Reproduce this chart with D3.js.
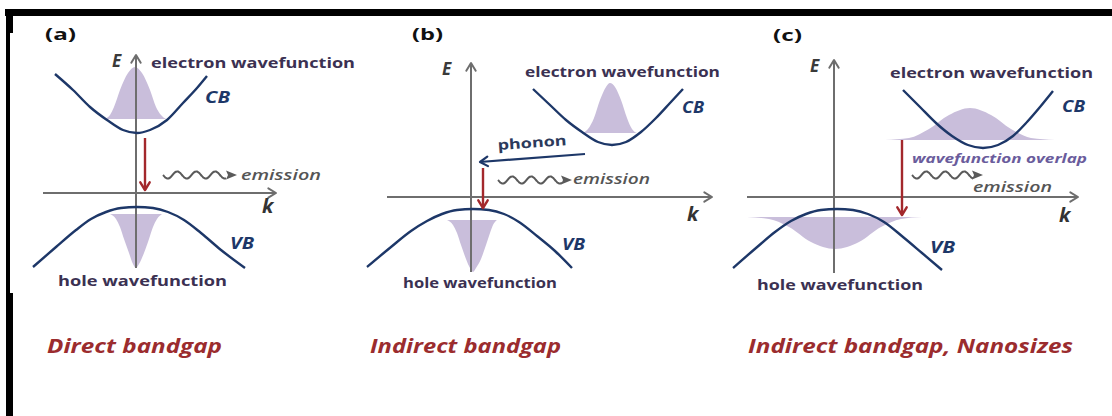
<!DOCTYPE html>
<html>
<head>
<meta charset="utf-8">
<script src="https://cdn.jsdelivr.net/npm/d3@7"></script>
<style>
	body { margin: 0; background: #fff; }
	svg { display: block; }
	text { font-family: "Open Sans", "DejaVu Sans", sans-serif; }
</style>
</head>
<body>
<svg id="svg-port" width="1112" height="416"></svg>
<script>
// band curves, k and E in arbitrary units (1 unit = 10 px)
var cbA = [[-8.1, 11.9], [-6.3, 10.3], [-4.6, 8.6], [-2.9, 7.3], [-1.3, 6.3], [0.1, 6.0], [1.4, 6.3], [3.1, 7.3], [4.7, 9.0], [6.1, 10.5], [7.1, 11.7]];
var vbA = [[-10.3, -7.4], [-8.0, -5.4], [-6.0, -3.7], [-4.5, -2.6], [-3.0, -1.9], [-1.5, -1.5], [0.1, -1.4], [1.7, -1.5], [3.2, -1.9], [4.8, -2.7], [6.5, -4.0], [8.5, -5.7], [10.9, -7.5]];
var elA = [[-3.1, 7.4], [-2.6, 7.8], [-2.2, 8.6], [-1.6, 10.3], [-0.8, 12.0], [-0.1, 12.6], [0.6, 12.0], [1.4, 10.3], [2.0, 8.6], [2.5, 7.8], [3.0, 7.4]];
var hoA = [[-2.6, -2.1], [-2.0, -2.6], [-1.6, -3.4], [-1.2, -4.6], [-0.7, -6.0], [-0.3, -7.1], [0, -7.5], [0.3, -7.1], [0.8, -6.0], [1.3, -4.6], [1.7, -3.4], [2.1, -2.6], [2.6, -2.1]];

var cbB = [[6.2, 10.8], [7.9, 9.2], [9.5, 7.7], [11.1, 6.5], [12.7, 5.5], [14.1, 5.2], [15.5, 5.5], [17.0, 6.5], [18.5, 7.9], [19.9, 9.4], [21.2, 10.8]];
var vbB = [[-10.4, -7.0], [-8.0, -5.0], [-6.0, -3.4], [-4.4, -2.4], [-2.9, -1.7], [-1.4, -1.3], [0.2, -1.2], [1.8, -1.3], [3.3, -1.7], [4.8, -2.5], [6.6, -3.9], [8.4, -5.4], [10.1, -7.1]];
var elB = [[11.1, 6.4], [11.7, 6.8], [12.3, 7.9], [12.9, 9.7], [13.5, 11.0], [13.9, 11.4], [14.4, 11.0], [15.0, 9.7], [15.6, 7.9], [16.1, 6.8], [16.6, 6.4]];
var hoB = [[-2.4, -2.3], [-1.8, -2.8], [-1.4, -3.6], [-1.0, -4.8], [-0.5, -6.2], [-0.1, -7.1], [0.2, -7.5], [0.5, -7.1], [1.0, -6.2], [1.5, -4.8], [1.9, -3.6], [2.2, -2.8], [2.6, -2.3]];

var cbC = [[6.9, 10.7], [8.6, 9.0], [10.2, 7.4], [11.8, 6.1], [13.4, 5.2], [14.9, 4.9], [16.4, 5.2], [17.9, 6.1], [19.3, 7.5], [20.6, 9.0], [21.9, 10.6]];
var vbC = [[-10.1, -7.1], [-7.8, -5.1], [-5.9, -3.5], [-4.3, -2.4], [-2.8, -1.7], [-1.3, -1.3], [0.3, -1.2], [1.9, -1.3], [3.4, -1.7], [5.0, -2.5], [6.9, -4.0], [8.8, -5.6], [10.8, -7.3]];
var elC = [[5.1, 5.7], [7.5, 5.9], [9.5, 6.8], [11.5, 8.2], [13.6, 8.9], [15.7, 8.2], [17.7, 6.8], [19.7, 5.9], [22.1, 5.7]];
var hoC = [[-8.7, -2.0], [-6.5, -2.2], [-4.5, -3.0], [-2.3, -4.5], [0.1, -5.2], [2.5, -4.5], [4.7, -3.0], [6.7, -2.2], [8.8, -2.0]];

var panelTitles = ['Direct bandgap', 'Indirect bandgap', 'Indirect bandgap, Nanosizes'];
var panelTags = ['(a)', '(b)', '(c)'];

var navy = '#1d3768';
var lilac = '#c9bedb';
var axisGray = '#6e6e6e';
var red = '#a3282c';
var textPurple = '#3b3152';

var svg = d3.select('#svg-port');

// frame
svg.append('rect').attr('x', 5).attr('y', 9).attr('width', 1107).attr('height', 7).attr('fill', '#000');
svg.append('rect').attr('x', 6).attr('y', 9).attr('width', 4).attr('height', 407).attr('fill', '#000');
svg.append('rect').attr('x', 6).attr('y', 9).attr('width', 7).attr('height', 24).attr('fill', '#000');
svg.append('rect').attr('x', 6).attr('y', 293).attr('width', 7).attr('height', 123).attr('fill', '#000');

var panels = [
	{ox: 136, oy: 193, kMin: -9.3, kMax: 14.0, eMin: -7.5, eMax: 13.8, cb: cbA, vb: vbA, el: elA, ho: hoA,
		red: [0.9, 5.5, 0.3], wave: [2.7, 10.1, 1.8]},
	{ox: 471, oy: 197, kMin: -8.4, kMax: 24.1, eMin: -7.5, eMax: 13.4, cb: cbB, vb: vbB, el: elB, ho: hoB,
		red: [1.2, 2.9, -1.1], wave: [2.7, 10.1, 1.7], phonon: [11.4, 4.3, 0.9, 3.5]},
	{ox: 834, oy: 197, kMin: -8.7, kMax: 24.4, eMin: -7.6, eMax: 13.7, cb: cbC, vb: vbC, el: elC, ho: hoC,
		red: [6.8, 5.7, -1.8], wave: [7.8, 14.9, 2.2]}
];

function chevron(g, x, y, angle, size, color, width) {
	// open arrow head pointing along angle (degrees, 0 = right)
	var a = angle * Math.PI / 180, s = 0.55;
	var p1 = [x - size * Math.cos(a - s), y - size * Math.sin(a - s)];
	var p2 = [x - size * Math.cos(a + s), y - size * Math.sin(a + s)];
	g.append('path')
		.attr('d', 'M' + p1 + 'L' + [x, y] + 'L' + p2)
		.attr('fill', 'none').attr('stroke', color).attr('stroke-width', width)
		.attr('stroke-linecap', 'round').attr('stroke-linejoin', 'round');
}

function wavy(g, x0, x1, y) {
	var headLen = 10, end = x1 - headLen, pts = [];
	for (var x = x0; x <= end; x += 1) {
		pts.push([x, y + 3.6 * Math.sin((x - x0) / 19 * 2 * Math.PI)]);
	}
	g.append('path').attr('d', d3.line().curve(d3.curveBasis)(pts))
		.attr('fill', 'none').attr('stroke', '#5a5a5a').attr('stroke-width', 2);
	g.append('path')
		.attr('d', 'M' + [x1, y] + 'L' + [end - 1, y - 4.5] + 'L' + [end + 1, y] + 'L' + [end - 1, y + 4.5] + 'Z')
		.attr('fill', '#5a5a5a');
}

panels.forEach(function (p, i) {
	var g = svg.append('g');
	var x = d3.scaleLinear().domain([0, 1]).range([p.ox, p.ox + 10]);
	var y = d3.scaleLinear().domain([0, 1]).range([p.oy, p.oy - 10]);

	var line = d3.line().x(function (d) { return x(d[0]); }).y(function (d) { return y(d[1]); })
		.curve(d3.curveMonotoneX);
	var elArea = d3.area().x(function (d) { return x(d[0]); })
		.y0(y(p.el[0][1])).y1(function (d) { return y(d[1]); }).curve(d3.curveMonotoneX);
	var hoArea = d3.area().x(function (d) { return x(d[0]); })
		.y0(y(p.ho[0][1])).y1(function (d) { return y(d[1]); }).curve(d3.curveMonotoneX);

	g.append('path').attr('d', elArea(p.el)).attr('fill', lilac);
	g.append('path').attr('d', hoArea(p.ho)).attr('fill', lilac);

	// axes
	g.append('line').attr('x1', x(0)).attr('x2', x(0)).attr('y1', y(p.eMin)).attr('y2', y(p.eMax))
		.attr('stroke', axisGray).attr('stroke-width', 2);
	chevron(g, x(0), y(p.eMax), -90, 9, axisGray, 2);
	g.append('line').attr('x1', x(p.kMin)).attr('x2', x(p.kMax)).attr('y1', y(0)).attr('y2', y(0))
		.attr('stroke', axisGray).attr('stroke-width', 2);
	chevron(g, x(p.kMax), y(0), 0, 9, axisGray, 2);

	g.append('path').attr('d', line(p.cb)).attr('fill', 'none').attr('stroke', navy).attr('stroke-width', 2.4);
	g.append('path').attr('d', line(p.vb)).attr('fill', 'none').attr('stroke', navy).attr('stroke-width', 2.4);

	// recombination arrow
	g.append('line').attr('x1', x(p.red[0])).attr('x2', x(p.red[0]))
		.attr('y1', y(p.red[1])).attr('y2', y(p.red[2]))
		.attr('stroke', red).attr('stroke-width', 2.4);
	chevron(g, x(p.red[0]), y(p.red[2]), 90, 9, red, 2.4);

	wavy(g, x(p.wave[0]), x(p.wave[1]), y(p.wave[2]));

	if (p.phonon) {
		var ph = p.phonon;
		g.append('line').attr('x1', x(ph[0])).attr('y1', y(ph[1])).attr('x2', x(ph[2])).attr('y2', y(ph[3]))
			.attr('stroke', navy).attr('stroke-width', 2.2);
		var ang = Math.atan2(y(ph[3]) - y(ph[1]), x(ph[2]) - x(ph[0])) * 180 / Math.PI;
		chevron(g, x(ph[2]), y(ph[3]), ang, 9, navy, 2.2);
	}
});

function label(txt, xx, yy, opt) {
	var t = svg.append('text').attr('x', xx).attr('y', yy).text(txt)
		.attr('font-size', opt.size).attr('font-weight', opt.weight || 700)
		.attr('font-style', opt.italic ? 'italic' : 'normal')
		.attr('fill', opt.color);
	if (opt.family) t.style('font-family', opt.family);
	if (opt.len) t.attr('textLength', opt.len).attr('lengthAdjust', 'spacingAndGlyphs');
	if (opt.rotate) t.attr('transform', 'rotate(' + opt.rotate + ',' + xx + ',' + yy + ')');
	return t;
}

// panel tags
label(panelTags[0], 45, 40, {size: 16, color: '#111', len: 31});
label(panelTags[1], 412, 40, {size: 16, color: '#111', len: 31});
label(panelTags[2], 773, 41, {size: 16, color: '#111', len: 29});

// E / k axis names
label('E', 112, 67, {size: 17, italic: true, color: '#3a3a3a'});
label('E', 442, 75, {size: 17, italic: true, color: '#3a3a3a'});
label('E', 810, 72, {size: 17, italic: true, color: '#3a3a3a'});
label('k', 262, 213, {size: 20, italic: true, color: '#333'});
label('k', 687, 221, {size: 20, italic: true, color: '#333'});
label('k', 1059, 222, {size: 20, italic: true, color: '#333'});

// wavefunction captions
label('electron wavefunction', 151, 68, {size: 15, color: textPurple, len: 204});
label('electron wavefunction', 525, 77, {size: 15, color: textPurple, len: 195});
label('electron wavefunction', 890, 78, {size: 15, color: textPurple, len: 203});
label('hole wavefunction', 58, 286, {size: 15, color: textPurple, len: 169});
label('hole wavefunction', 403, 288, {size: 15, color: textPurple, len: 154});
label('hole wavefunction', 757, 290, {size: 15, color: textPurple, len: 166});

// band names
label('CB', 205, 103, {size: 16, italic: true, color: navy, len: 25});
label('VB', 230, 249, {size: 16, italic: true, color: navy, len: 24});
label('CB', 682, 113, {size: 16, italic: true, color: navy, len: 22});
label('VB', 562, 250, {size: 16, italic: true, color: navy, len: 23});
label('CB', 1062, 112, {size: 16, italic: true, color: navy, len: 23});
label('VB', 930, 253, {size: 16, italic: true, color: navy, len: 25});

// emission / phonon / overlap
label('emission', 241, 180, {size: 14, italic: true, weight: 600, color: '#555', len: 80});
label('emission', 573, 184, {size: 14, italic: true, weight: 600, color: '#555', len: 77});
label('emission', 973, 192, {size: 14, italic: true, weight: 600, color: '#555', len: 79});
label('phonon', 498, 150, {size: 14, color: '#2c3a5c', len: 69, rotate: -4});
label('wavefunction overlap', 912, 163, {size: 13, italic: true, color: '#6a5c9c', len: 175});

// titles
var titleFont = '"Liberation Sans Narrow", "Open Sans", sans-serif';
label(panelTitles[0], 47, 353, {size: 20, italic: true, color: '#9b2c2e', len: 175, family: titleFont});
label(panelTitles[1], 370, 353, {size: 20, italic: true, color: '#9b2c2e', len: 191, family: titleFont});
label(panelTitles[2], 748, 353, {size: 20, italic: true, color: '#9b2c2e', len: 325, family: titleFont});
</script>
</body>
</html>
